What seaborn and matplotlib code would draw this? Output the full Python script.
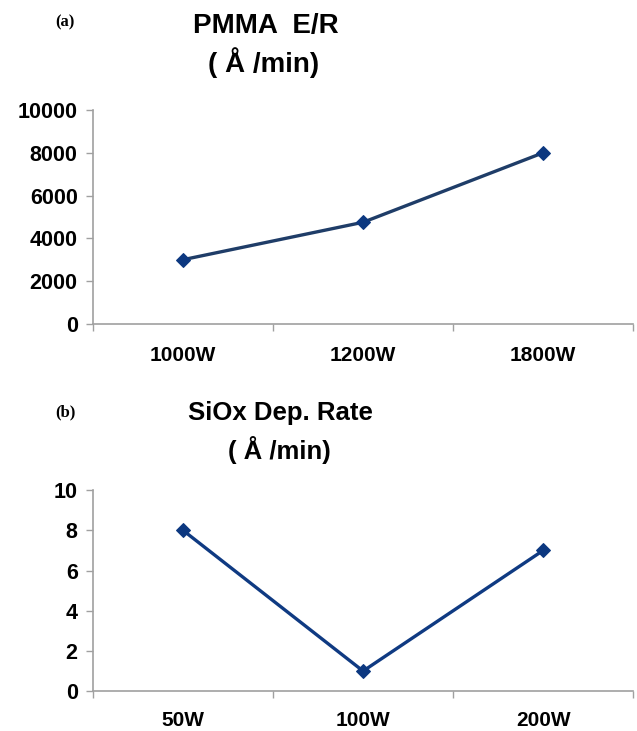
import matplotlib
matplotlib.use('Agg')
import matplotlib.pyplot as plt
import seaborn as sns
import pandas as pd
from matplotlib.ticker import FixedLocator, NullFormatter

# 数据
pmma_power = ['1000W', '1200W', '1800W']
pmma_rate = [3000, 4750, 8000]
siox_power = ['50W', '100W', '200W']
siox_rate = [8, 1, 7]

sns.set_style('white')
plt.rcParams['font.family'] = ['Liberation Sans', 'DejaVu Sans']
plt.rcParams['text.color'] = 'black'
plt.rcParams['xtick.labelcolor'] = 'black'
plt.rcParams['ytick.labelcolor'] = 'black'

fig = plt.figure(figsize=(6.37, 7.31), dpi=100)
ax1 = fig.add_axes([0.146, 0.557, 0.848, 0.2925])
ax2 = fig.add_axes([0.146, 0.0545, 0.848, 0.275])


def style_axes(ax, labels, ymax, step, xpad):
    ax.set_xlim(-0.5, len(labels) - 0.5)
    ax.set_ylim(0, ymax)
    ax.set_yticks(range(0, ymax + 1, step))
    ax.set_xticks(range(len(labels)))
    ax.set_xticklabels(labels, fontsize=15, fontweight='bold')
    ax.xaxis.set_minor_locator(FixedLocator([i - 0.5 for i in range(len(labels) + 1)]))
    ax.xaxis.set_minor_formatter(NullFormatter())
    ax.tick_params(axis='x', which='major', length=0, pad=xpad)
    ax.tick_params(axis='x', which='minor', length=5, width=1, color='#a0a0a0', direction='out', bottom=True)
    ax.tick_params(axis='y', length=5, width=1, color='#a0a0a0', direction='out', left=True, pad=6)
    for lab in ax.get_yticklabels():
        lab.set_fontsize(15.5)
        lab.set_fontweight('bold')
    for s in ['top', 'right']:
        ax.spines[s].set_visible(False)
    for s in ['left', 'bottom']:
        ax.spines[s].set_color('#a0a0a0')
        ax.spines[s].set_linewidth(1.2)
    ax.set_xlabel('')
    ax.set_ylabel('')


df1 = pd.DataFrame({'power': pmma_power, 'rate': pmma_rate})
df2 = pd.DataFrame({'power': siox_power, 'rate': siox_rate})

sns.lineplot(data=df1, x='power', y='rate', ax=ax1, color='#1f3d68', linewidth=2.4,
             marker='D', markersize=7, markerfacecolor='#0c3880', markeredgecolor='#0c3880')
sns.lineplot(data=df2, x='power', y='rate', ax=ax2, color='#0f3a82', linewidth=2.4,
             marker='D', markersize=7, markerfacecolor='#0c3880', markeredgecolor='#0c3880')

style_axes(ax1, pmma_power, 10000, 2000, 16)
style_axes(ax2, siox_power, 10, 2, 14)

# 标题
fig.text(0.417, 1 - 26 / 731, 'PMMA  E/R', ha='center', va='center', fontsize=20, fontweight='bold')
fig.text(0.414, 1 - 63 / 731, '( Å /min)', ha='center', va='center', fontsize=20, fontweight='bold')
fig.text(0.441, 1 - 413 / 731, 'SiOx Dep. Rate', ha='center', va='center', fontsize=18.5, fontweight='bold')
fig.text(0.438, 1 - 450 / 731, '( Å /min)', ha='center', va='center', fontsize=18.5, fontweight='bold')
fig.text(0.102, 1 - 22 / 731, '(a)', ha='center', va='center', fontsize=12, fontweight='bold',
         family=['Liberation Serif', 'DejaVu Serif'])
fig.text(0.102, 1 - 412 / 731, '(b)', ha='center', va='center', fontsize=12, fontweight='bold',
         family=['Liberation Serif', 'DejaVu Serif'])

plt.savefig('out.png', dpi=100)
plt.close()
